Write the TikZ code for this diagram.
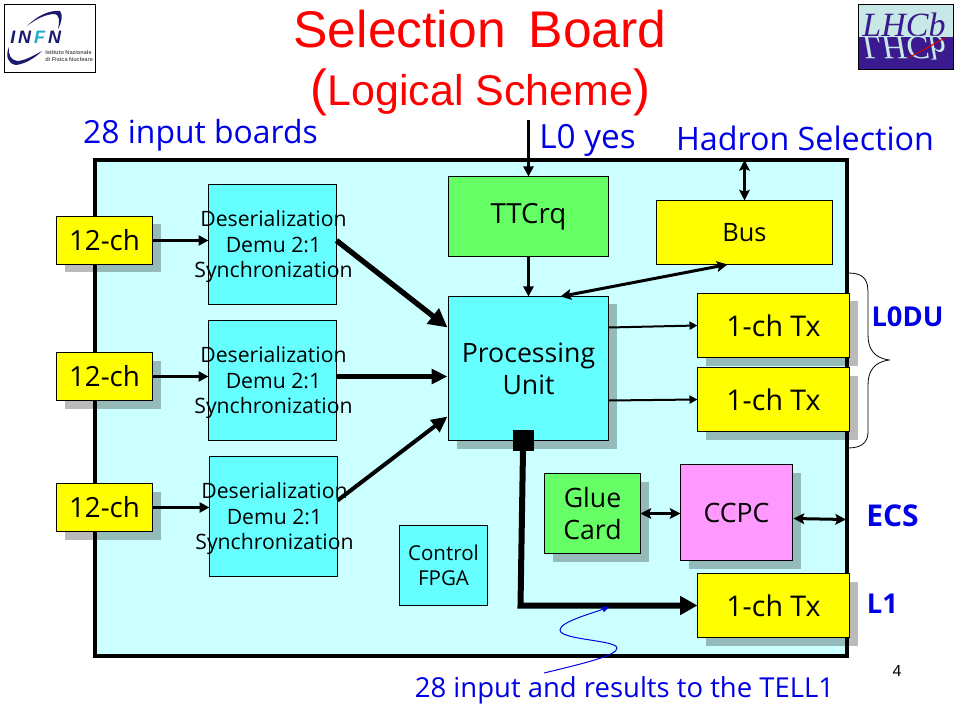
\documentclass[tikz,border=0pt]{standalone}
\usepackage{fontspec}
\setmainfont{Open Sans}
\newfontfamily\arialf{Liberation Sans}
\newfontfamily\timesf{Liberation Serif}
\usetikzlibrary{calc,shadows,arrows.meta}
\definecolor{cyanbg}{HTML}{CCFFFF}
\definecolor{cyanbox}{HTML}{66FFFF}
\definecolor{yel}{HTML}{FFFF00}
\definecolor{grn}{HTML}{66FF66}
\definecolor{pnk}{HTML}{FF99FF}
\definecolor{blu}{HTML}{0000E6}
\definecolor{navy}{HTML}{1A1A6E}
\definecolor{teal2}{HTML}{22AACC}
\definecolor{lhcl}{HTML}{C8E8E8}
\definecolor{lhcd}{HTML}{3A1A8E}
\newcommand{\fsz}[2]{\fontsize{#1pt}{#2pt}\selectfont}
\newcommand{\bx}[7]{%
  \pgfmathsetmacro{\cxx}{(#2+#4)/2}\pgfmathsetmacro{\cyy}{(#3+#5)/2}%
  \pgfmathsetmacro{\www}{(#4-#2)*0.75}\pgfmathsetmacro{\hhh}{(#5-#3)*0.75}%
  \node[boxbase,#6,minimum width=\www pt,minimum height=\hhh pt] (#1) at (\cxx,\cyy) {#7};}
\tikzset{
  x=0.75pt,y=-0.75pt,
  boxbase/.style={draw=black,line width=0.75pt,inner sep=0pt,outer sep=0pt,align=center,text=black},
  shad/.style={drop shadow={shadow xshift=6pt,shadow yshift=-6pt,fill=black,opacity=0.27}},
  big/.style={font=\fsz{20.8}{24}},
  bigb/.style={font=\fsz{21.4}{24}},
  des/.style={inner sep=0pt,align=center,text=black,font=\fsz{15.9}{19}},
  bl/.style={text=blu,inner sep=0pt,outer sep=0pt},
  blb/.style={text=blu,inner sep=0pt,outer sep=0pt,font=\bfseries\fsz{20.5}{24}},
  arr/.style={draw=black,line width=2.25pt,-{Triangle[length=7.5pt,width=7.5pt]}},
  darr/.style={draw=black,line width=2.25pt,{Stealth[length=8pt,width=8pt,inset=1.5pt]}-{Stealth[length=8pt,width=8pt,inset=1.5pt]}},
}
\begin{document}
\begin{tikzpicture}
\useasboundingbox (0,0) rectangle (960,720);
\fill[white] (0,0) rectangle (960,720);
% main board
\bx{main}{95}{160}{847}{656}{draw=black,line width=3pt,fill=cyanbg}{}
% logos
\node[draw=black,line width=0.6pt,minimum width=68.25pt,minimum height=50.6pt,inner sep=0pt,outer sep=0pt] (infn) at (50,38.2) {};
\fill[navy] (27,26) .. controls (38,15) and (50,10) .. (60,11) .. controls (63,15) and (62,22) .. (58,29) .. controls (60,20) and (59,15) .. (55,14) .. controls (46,14) and (36,19) .. (27,26) -- cycle;
\fill[navy] (9,47) .. controls (5,56) and (8,64) .. (16,65) .. controls (25,64) and (35,58) .. (42,51) .. controls (33,56) and (24,61) .. (17,61) .. controls (11,60) and (8,55) .. (9,47) -- cycle;
\node[inner sep=0pt,anchor=base west,font=\arialf\bfseries\itshape\fsz{13.5}{16},text=navy] (infnt) at (10,44) {I\kern2.2pt N\kern2.2pt\textcolor{teal2}{F}\kern2.2pt N};
\node[inner sep=0pt,anchor=base west,font=\arialf\bfseries\fsz{4.2}{5},text=black!65] (infn1) at (45,54.5) {Istituto Nazionale};
\node[inner sep=0pt,anchor=base west,font=\arialf\bfseries\fsz{4.2}{5},text=black!65] (infn2) at (45,61.5) {di Fisica Nucleare};
\fill[lhcl] (858.5,4.5) rectangle (953,37);
\fill[lhcd] (858.5,37) rectangle (953,69);
\node[inner sep=0pt,anchor=base,font=\timesf\itshape\fsz{25.5}{28},text=lhcd] (lhcb) at (904,37) {LHCb};
\begin{scope}[shift={(904,37)},yscale=-1]
\node[transform shape,inner sep=0pt,anchor=base,font=\timesf\itshape\fsz{25.5}{28},text=lhcl] (lhcbm) at (0,0) {LHCb};
\end{scope}
\draw[red!85!black,line width=0.8pt] (910,57) -- (945,38);
\draw[black,line width=0.6pt] (858.5,4.5) rectangle (953,69);
% title
\node[inner sep=0pt,text=red,font=\arialf\fsz{38.7}{44}] (title) at (480,29.5) {Selection\ \,Board};
\node[inner sep=0pt,text=red,font=\arialf\fsz{32.2}{44}] (sub) at (480.5,92) {{\fsz{38}{44}(}Logical Scheme{\fsz{38}{44})}};
% boxes
\bx{c1}{56.5}{216.5}{152.5}{264.5}{fill=yel,shad,big}{12-ch}
\bx{c2}{56.5}{352.5}{152.5}{400.5}{fill=yel,shad,big}{12-ch}
\bx{c3}{56.5}{483.5}{152.5}{531.5}{fill=yel,shad,big}{12-ch}
\bx{d1}{208.5}{184.5}{336.5}{304.5}{fill=cyanbox}{}
\bx{d2}{208.5}{320.5}{336.5}{440.5}{fill=cyanbox}{}
\bx{d3}{209.5}{456.5}{337.5}{576.5}{fill=cyanbox}{}
\node[des] (d1t) at ($(d1.center)+(1,2)$) {Deserialization\\Demu 2:1\\Synchronization};
\node[des] (d2t) at ($(d2.center)+(1,2)$) {Deserialization\\Demu 2:1\\Synchronization};
\node[des] (d3t) at ($(d3.center)+(1,2)$) {Deserialization\\Demu 2:1\\Synchronization};
\bx{tt}{448.5}{176.5}{608.5}{256.5}{fill=grn,big}{TTCrq}
\bx{bus}{656.5}{200.5}{832.5}{264.5}{fill=yel,font=\fsz{19}{24}}{Bus}
\bx{p}{448.5}{296.5}{608.5}{440.5}{fill=cyanbox,shad,font=\fsz{20}{24}}{Processing\\Unit}
\bx{t1}{697.5}{293.5}{849.5}{357.5}{fill=yel,shad,bigb}{1-ch Tx}
\bx{t2}{697.5}{367.5}{849.5}{431.5}{fill=yel,shad,bigb}{1-ch Tx}
\bx{t3}{697.5}{573.5}{849.5}{637.5}{fill=yel,shad,bigb}{1-ch Tx}
\bx{glue}{544.5}{473.5}{640.5}{553.5}{fill=grn,shad,font=\fsz{20}{24}}{Glue\\Card}
\bx{cc}{680.5}{464.5}{792.5}{560.5}{fill=pnk,shad,font=\fsz{20}{24}}{CCPC}
\bx{fpga}{399.5}{525.5}{487.5}{605.5}{fill=cyanbox,font=\fsz{15.4}{19}}{Control\\FPGA}
\bx{sq}{513}{430}{533}{450}{fill=black}{}
% labels
\node[bl,font=\fsz{23.9}{28}] (l28) at (200.5,135.5) {28 input boards};
\node[bl,font=\fsz{25}{28}] (l0) at (587.5,140) {L0 yes};
\node[bl,font=\fsz{24.2}{28}] (had) at (805,138) {Hadron Selection};
\node[blb] (l0du) at (907.5,317) {L0DU};
\node[blb,font=\bfseries\fsz{22.5}{24}] (ecs) at (892.5,516) {ECS};
\node[blb] (l1) at (882.5,604) {L1};
\node[bl,font=\fsz{20.6}{24}] (tell) at (624.5,690) {28 input and results to the TELL1};
\node[inner sep=0pt,font=\arialf\fsz{12}{14}] (pg) at (897,671) {4};
% connectors
\draw[arr] (c1.east) -- (c1.east -| d1.west);
\draw[arr] (c2.east) -- (c2.east -| d2.west);
\draw[arr] (c3.east) -- (c3.east -| d3.west);
\draw[draw=black,line width=4pt,-{Triangle[length=14pt,width=14pt]}] ($(d1.east)+(0,-4)$) -- ($(p.north west)+(-1,31)$);
\draw[draw=black,line width=3.4pt,-{Triangle[length=12pt,width=11pt]}] ($(d2.east)+(0,-4)$) -- ($(p.west)+(-1,8)$);
\draw[draw=black,line width=3pt,-{Triangle[length=12pt,width=11pt]}] ($(d3.east)+(0,-16)$) -- ($(p.north west)+(-1,120)$);
\coordinate (l0in) at (528.5,120);
\draw[arr] (l0in) -- (tt.north);
\draw[arr] (tt.south) -- (p.north);
\draw[darr] (bus.north |- main.north) -- (bus.north);
\draw[darr] ($(p.north west)+(112,0)$) -- ($(bus.south west)+(71,0)$);
\draw[draw=black,line width=1.5pt,-{Triangle[length=6pt,width=6pt]}] ($(p.north east)+(0,31)$) -- (t1.west);
\draw[draw=black,line width=1.5pt,-{Triangle[length=6pt,width=6pt]}] ($(p.north east)+(0,104)$) -- (t2.west);
\draw[darr] (glue.east) -- (glue.east -| cc.west);
\draw[darr] ($(cc.east)+(1,6)$) -- ($(main.east |- cc.east)+(-1,7)$);
\draw[draw=black,line width=4.5pt,miter limit=10,-{Triangle[length=13pt,width=13.5pt]}] (sq.south) -- ($(sq.south |- t3.west)+(-2.5,0)$) -- (t3.west);
% brace
\coordinate (bt) at (848,273);
\coordinate (bb) at (848,448);
\draw[black,line width=0.6pt] (bt) .. controls (862,273) and (868,278) .. (868,292) -- (868,335) .. controls (868,350) and (875,358) .. (889,360) .. controls (875,362) and (868,370) .. (868,385) -- (868,432) .. controls (868,442) and (862,448) .. (bb);
% squiggle
\coordinate (sqa) at (544,673);
\coordinate (sqb) at (609,607);
\draw[blu,line width=0.75pt,-{Triangle[length=5pt,width=4.5pt]}] (sqa) .. controls (590,662) and (617,655) .. (617,648) .. controls (617,640) and (560,640) .. (560,630) .. controls (560,622) and (590,614) .. (sqb);
\end{tikzpicture}
\end{document}
